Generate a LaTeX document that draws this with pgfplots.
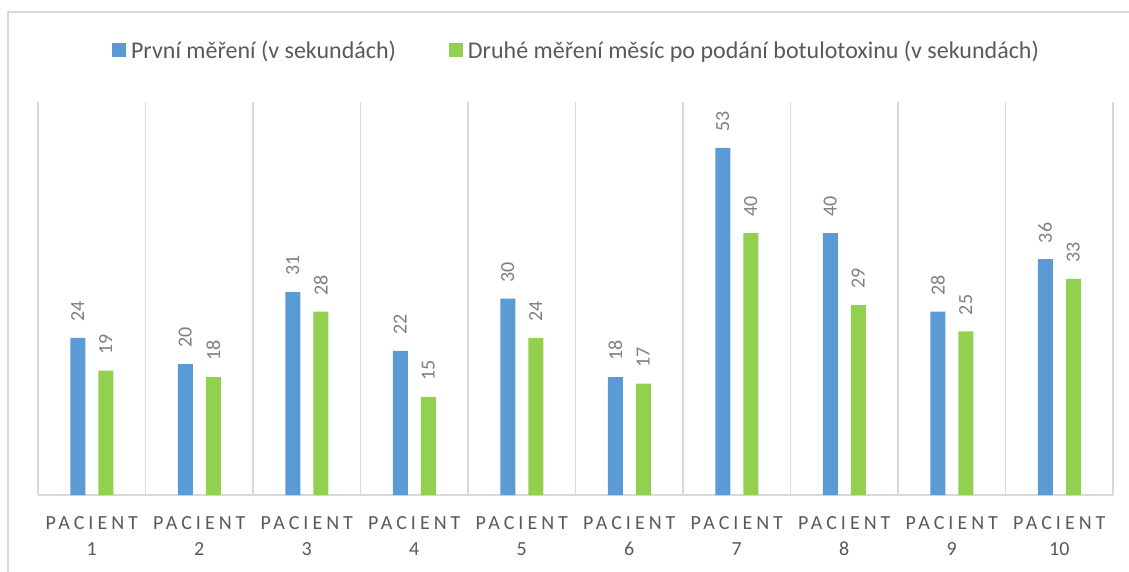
\documentclass[border=0pt]{standalone}
\usepackage{fontspec}
\setmainfont{Carlito}
\newfontfamily\spaced[LetterSpace=20]{Carlito}
\usepackage{pgfplots}
\pgfplotsset{compat=1.18}
\definecolor{barblue}{HTML}{5B9BD5}
\definecolor{bargreen}{HTML}{92D050}
\definecolor{gridgray}{HTML}{D9D9D9}
\definecolor{txtgray}{HTML}{595959}
\definecolor{lblgray}{HTML}{7F7F7F}

\begin{document}
\begin{tikzpicture}[x=1pt,y=1pt]
\begin{axis}[at={(0,0)}, anchor=south west, scale only axis,
  width=1075pt, height=393pt,
  ybar=13pt, bar width=15pt,
  xmin=0.5, xmax=10.5, ymin=0, ymax=60,
  axis x line*=bottom, axis y line=none,
  x axis line style={gridgray, line width=2pt, -},
  xtick={1,...,10},
  xticklabels={{\spaced PACIENT\\1},{\spaced PACIENT\\2},{\spaced PACIENT\\3},{\spaced PACIENT\\4},{\spaced PACIENT\\5},
    {\spaced PACIENT\\6},{\spaced PACIENT\\7},{\spaced PACIENT\\8},{\spaced PACIENT\\9},{\spaced PACIENT\\10}},
  xticklabel style={align=center, font=\fontsize{20}{26}\selectfont, text=txtgray, inner sep=0pt, yshift=-21pt},
  minor xtick={0.5,1.5,...,10.5}, xminorgrids=true,
  minor grid style={gridgray, line width=1.5pt},
  major tick length=0pt, minor tick length=0pt,
  ytick=\empty,
  nodes near coords,
  /pgf/number format/assume math mode=true,
  every node near coord/.append style={rotate=90, anchor=west, inner xsep=16pt, inner ysep=0pt,
    font=\fontsize{20}{24}\selectfont, text=lblgray},
  legend columns=2,
  legend style={at={(0.5,1.132)}, anchor=center, draw=none, fill=none,
    font=\fontsize{24}{28}\selectfont, text=txtgray, nodes={inner sep=0pt},
    /tikz/every odd column/.append style={column sep=5pt},
    /tikz/every even column/.append style={column sep=53pt}},
  legend image code/.code={\fill[#1, draw=none] (0pt,-7pt) rectangle (14pt,7pt);},
  clip=false]
\addplot[fill=barblue, draw=none] coordinates {(1,24) (2,20) (3,31) (4,22) (5,30) (6,18) (7,53) (8,40) (9,28) (10,36)};
\addplot[fill=bargreen, draw=none] coordinates {(1,19) (2,18) (3,28) (4,15) (5,24) (6,17) (7,40) (8,29) (9,25) (10,33)};
\legend{První měření (v sekundách), Druhé měření měsíc po podání botulotoxinu (v sekundách)}
\end{axis}
\pgfresetboundingbox
\useasboundingbox (-38,-76) rectangle (1091,495);
\draw[gridgray, line width=1.5pt] (-30,-90) -- (-30,483) -- (1110,483);
\end{tikzpicture}
\end{document}
